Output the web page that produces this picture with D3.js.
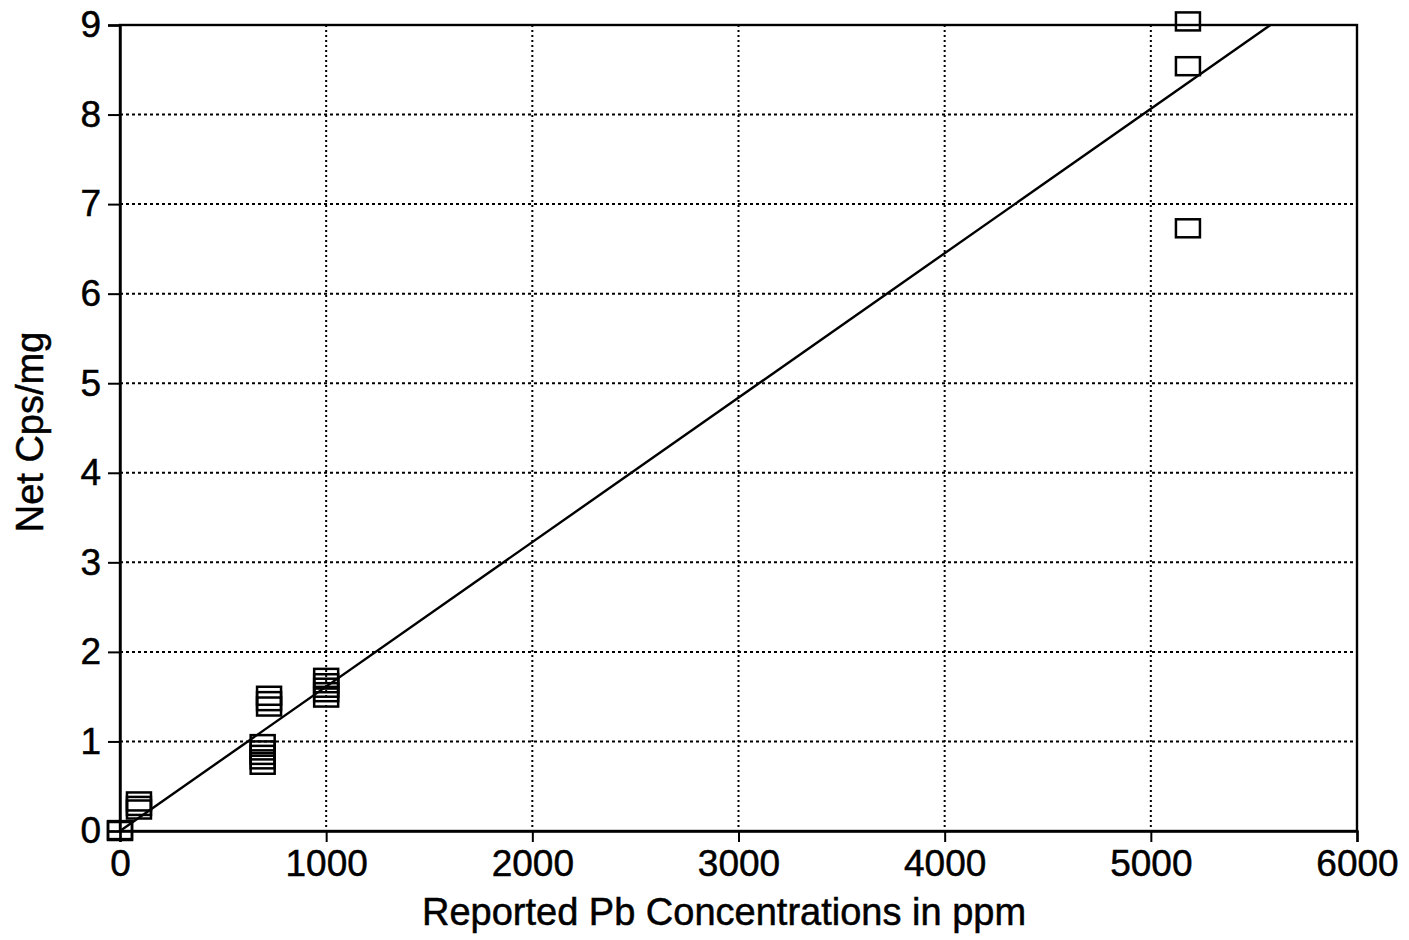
<!DOCTYPE html>
<html>
<head>
<meta charset="utf-8">
<script src="https://cdn.jsdelivr.net/npm/d3@7"></script>
<style>
  html, body { margin: 0; padding: 0; background: #fff; }
  svg { display: block; }
  text { font-family: "Liberation Sans", Arial, Helvetica, sans-serif; fill: #000; stroke: #000; stroke-width: 0.5px; }
</style>
</head>
<body>
<svg id="chart" width="1409" height="940"></svg>
<script>
// ---- Data ----
const xTicks = [0, 1000, 2000, 3000, 4000, 5000, 6000];
const yTicks = [0, 1, 2, 3, 4, 5, 6, 7, 8, 9];
const xTitle = "Reported Pb Concentrations in ppm";
const yTitle = "Net Cps/mg";

// measured points: reported Pb (ppm) and net cps/mg
const pointX = [0, 0, 92, 92, 92, 723, 723, 723, 692, 692, 692, 692, 692, 1000, 1000, 1000, 1000, 1000, 5180, 5180, 5180];
const pointY = [0, 0.01, 0.24, 0.28, 0.33, 1.39, 1.45, 1.51, 0.74, 0.80, 0.85, 0.90, 0.97, 1.49, 1.55, 1.60, 1.65, 1.71, 9.04, 8.54, 6.73];

// calibration (regression) line end points
const fitX = [0, 5580];
const fitY = [0, 9];

// ---- Layout ----
const svg = d3.select("#chart");
const mLeft = 120, mRight = 1357, mTop = 25, mBottom = 831;

const x = d3.scaleLinear().domain([0, 6000]).range([mLeft, mRight]);
const y = d3.scaleLinear().domain([0, 9]).range([mBottom, mTop]);

// grid lines (dotted)
const grid = svg.append("g");
grid.selectAll("line.vx")
  .data(xTicks.filter(d => d > 0 && d < 6000))
  .enter().append("line")
  .attr("x1", d => x(d)).attr("x2", d => x(d))
  .attr("y1", mTop).attr("y2", mBottom)
  .attr("stroke", "#000").attr("stroke-width", 2)
  .attr("stroke-dasharray", "2,3");
grid.selectAll("line.hy")
  .data(yTicks.filter(d => d > 0 && d < 9))
  .enter().append("line")
  .attr("x1", mLeft).attr("x2", mRight)
  .attr("y1", d => y(d)).attr("y2", d => y(d))
  .attr("stroke", "#000").attr("stroke-width", 2)
  .attr("stroke-dasharray", "3,3");

// frame
svg.append("rect")
  .attr("x", mLeft).attr("y", mTop)
  .attr("width", mRight - mLeft).attr("height", mBottom - mTop)
  .attr("fill", "none").attr("stroke", "#000").attr("stroke-width", 2.4);

// axes
const xAxis = d3.axisBottom(x).tickValues(xTicks).tickSize(11).tickPadding(7).tickFormat(d3.format("d"));
const yAxis = d3.axisLeft(y).tickValues(yTicks).tickSize(12).tickPadding(7).tickFormat(d3.format("d"));

const gx = svg.append("g").attr("transform", `translate(0,${mBottom})`).call(xAxis);
const gy = svg.append("g").attr("transform", `translate(${mLeft},0)`).call(yAxis);
[gx, gy].forEach(g => {
  g.select(".domain").attr("stroke", "#000").attr("stroke-width", 2.4);
  g.selectAll(".tick line").attr("stroke", "#000").attr("stroke-width", 2);
  g.selectAll(".tick text")
    .style("font-family", '"Liberation Sans", Arial, sans-serif')
    .style("font-size", "37px").attr("fill", "#000");
});
gx.selectAll(".tick text").attr("dy", "0.72em");

// regression line
svg.append("line")
  .attr("x1", x(fitX[0])).attr("y1", y(fitY[0]))
  .attr("x2", x(fitX[1])).attr("y2", y(fitY[1]))
  .attr("stroke", "#000").attr("stroke-width", 2.4);

// points: hollow squares
const sw = 24, sh = 18;
svg.append("g").selectAll("rect")
  .data(pointX.map((d, i) => [d, pointY[i]]))
  .enter().append("rect")
  .attr("x", d => x(d[0]) - sw / 2)
  .attr("y", d => y(d[1]) - sh / 2)
  .attr("width", sw).attr("height", sh)
  .attr("fill", "none").attr("stroke", "#000").attr("stroke-width", 2.5);

// titles
svg.append("text")
  .attr("x", 724).attr("y", 925)
  .attr("text-anchor", "middle")
  .style("font-size", "38px")
  .text(xTitle);

svg.append("text")
  .attr("transform", "translate(43,432) rotate(-90)")
  .attr("text-anchor", "middle")
  .style("font-size", "38px")
  .text(yTitle);
</script>
</body>
</html>
